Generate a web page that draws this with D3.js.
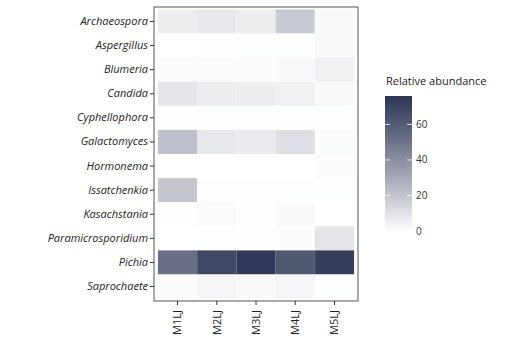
<!DOCTYPE html>
<html><head><meta charset="utf-8">
<script src="https://cdn.jsdelivr.net/npm/d3@7"></script>
<style>body{margin:0;background:#fff}</style>
</head><body>
<svg id="chart" width="528" height="345"></svg>
<script>
const genera = ["Archaeospora","Aspergillus","Blumeria","Candida","Cyphellophora","Galactomyces","Hormonema","Issatchenkia","Kasachstania","Paramicrosporidium","Pichia","Saprochaete"];
const samples = ["M1LJ","M2LJ","M3LJ","M4LJ","M5LJ"];
const archaeospora = [6,8,6,18,2];
const aspergillus = [0,0.5,0.5,0.5,2];
const blumeria = [1,1.5,1,2,5];
const candida = [9,6,6,5,2];
const cyphellophora = [0.5,0.5,0.5,0.5,0.5];
const galactomyces = [22,8,7,11,1.5];
const hormonema = [0,0,0,0,1];
const issatchenkia = [20,0.5,0.5,0.5,0.5];
const kasachstania = [0.5,1.5,0.5,2,0];
const paramicrosporidium = [0,0.5,0.5,1,9];
const pichia = [52,68,74,62,72];
const saprochaete = [1,3,2,3,0.5];
const legendTicks = [0,20,40,60];
const legendTitle = "Relative abundance";

const rows = [archaeospora,aspergillus,blumeria,candida,cyphellophora,galactomyces,hormonema,issatchenkia,kasachstania,paramicrosporidium,pichia,saprochaete];
const cells = [];
rows.forEach((r,i)=>r.forEach((v,j)=>cells.push({g:genera[i],s:samples[j],v})));

const svg = d3.select("#chart");
const panel = {l:154,r:358,t:7,b:301};
const x = d3.scaleBand().domain(samples).range([panel.l,panel.r]).paddingOuter(0.1).paddingInner(0);
const y = d3.scaleBand().domain(genera).range([panel.t,panel.b]).paddingOuter(0.1).paddingInner(0);
const vmax = 76;
const color = d3.scaleLinear().domain([0,vmax]).range(["#ffffff","#2b3654"]).interpolate(d3.interpolateLab).clamp(true);

svg.append("g").selectAll("rect").data(cells).join("rect")
  .attr("x",d=>x(d.s)).attr("y",d=>y(d.g))
  .attr("width",x.bandwidth()).attr("height",y.bandwidth())
  .attr("fill",d=>color(d.v));

svg.append("rect").attr("x",panel.l).attr("y",panel.t).attr("width",panel.r-panel.l).attr("height",panel.b-panel.t)
  .attr("fill","none").attr("stroke","#555").attr("stroke-width",1);

const font = "'Open Sans', sans-serif";
const yAxis = svg.append("g").attr("transform",`translate(${panel.l},0)`)
  .call(d3.axisLeft(y).tickSize(4).tickPadding(2));
yAxis.select(".domain").remove();
yAxis.selectAll("line").attr("stroke","#333");
yAxis.selectAll("text").attr("font-family",font).attr("font-style","italic").attr("font-size",11).attr("fill","#222");

const xAxis = svg.append("g").attr("transform",`translate(0,${panel.b})`)
  .call(d3.axisBottom(x).tickSize(4).tickPadding(2));
xAxis.select(".domain").remove();
xAxis.selectAll("line").attr("stroke","#333");
xAxis.selectAll("text").attr("font-family",font).attr("font-size",11).attr("fill","#222")
  .attr("transform","rotate(-90)").attr("text-anchor","end").attr("dy","0.35em").attr("x",-9).attr("y",0);

// legend
const lg = {x:385,w:27,top:96,bot:231};
const ly = d3.scaleLinear().domain([0,vmax]).range([lg.bot,lg.top]);
const defs = svg.append("defs");
const grad = defs.append("linearGradient").attr("id","lg").attr("x1",0).attr("x2",0).attr("y1",1).attr("y2",0);
d3.range(0,1.0001,0.1).forEach(t=>grad.append("stop").attr("offset",t).attr("stop-color",color(t*vmax)));
svg.append("rect").attr("x",lg.x).attr("y",lg.top).attr("width",lg.w).attr("height",lg.bot-lg.top).attr("fill","url(#lg)");
svg.append("text").attr("x",386).attr("y",85).text(legendTitle)
  .attr("font-family",font).attr("font-size",11).attr("fill","#222");
const lt = svg.append("g");
legendTicks.forEach(t=>{
  const yy = ly(t);
  lt.append("line").attr("x1",lg.x).attr("x2",lg.x+5).attr("y1",yy).attr("y2",yy).attr("stroke","#fff").attr("stroke-opacity",0.8);
  lt.append("line").attr("x1",lg.x+lg.w-5).attr("x2",lg.x+lg.w).attr("y1",yy).attr("y2",yy).attr("stroke","#fff").attr("stroke-opacity",0.8);
  lt.append("text").attr("x",416).attr("y",yy).attr("dy","0.35em").text(t)
    .attr("font-family",font).attr("font-size",10).attr("fill","#333");
});
</script>
</body></html>
